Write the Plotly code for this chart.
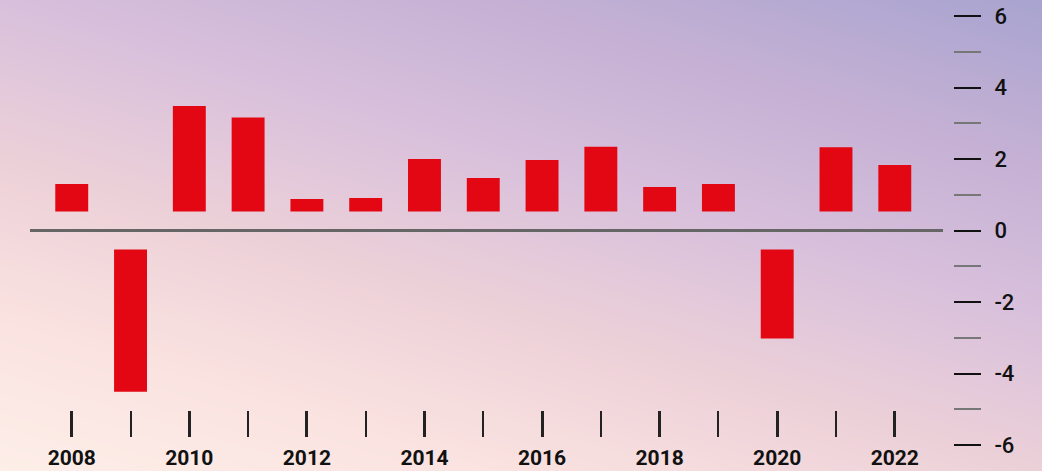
import plotly.graph_objects as go

# ---- data ----
years = list(range(2008, 2023))
values = [1.30, -4.51, 3.48, 3.16, 0.88, 0.91, 2.00, 1.47, 1.97, 2.34, 1.22, 1.30, -3.02, 2.33, 1.83]
y_tickvals = [-6, -4, -2, 0, 2, 4, 6]
x_tickvals = [2008, 2010, 2012, 2014, 2016, 2018, 2020, 2022]

# ---- styling ----
W, H = 1042, 471
bar_gap = 0.53  # bars start slightly away from the zero line
bar_color = "#e30613"
bases = [bar_gap if v >= 0 else -bar_gap for v in values]
lengths = [v - b for v, b in zip(values, bases)]

fig = go.Figure()

# background gradient (full figure)
fig.add_trace(go.Heatmap(
    x=[0, 0.5, 1], y=[0, 1],
    z=[[0, 0.2, 0.4], [0.6, 0.8, 1.0]],
    zsmooth="best", showscale=False, hoverinfo="skip",
    colorscale=[[0, "#fdeee8"], [0.2, "#fae2e0"], [0.4, "#ecd0d8"],
                [0.6, "#d8c0dc"], [0.8, "#c4b0d4"], [1.0, "#a8a4d0"]],
    xaxis="x", yaxis="y",
))

fig.add_trace(go.Bar(
    x=years, y=lengths, base=bases, width=0.56,
    marker=dict(color=bar_color, line=dict(width=0)),
    xaxis="x2", yaxis="y2", showlegend=False,
))

font_family = "Roboto"
fig.update_layout(
    width=W, height=H,
    margin=dict(l=0, r=0, t=0, b=0),
    paper_bgcolor="white", plot_bgcolor="rgba(0,0,0,0)",
    showlegend=False,
    xaxis=dict(domain=[0, 1], range=[0, 1], visible=False, fixedrange=True),
    yaxis=dict(domain=[0, 1], range=[0, 1], visible=False, fixedrange=True),
    xaxis2=dict(
        domain=[30 / W, 943 / W], range=[2007.29, 2022.82],
        anchor="free", position=1 - 437 / H,
        showgrid=False, zeroline=False, showline=False,
        ticks="inside", ticklen=26, tickwidth=2.5, tickcolor="#222",
        tickvals=x_tickvals, ticktext=[str(v) for v in x_tickvals],
        ticklabelstandoff=6,
        tickfont=dict(family=font_family, size=21, color="#111", weight="bold"),
        minor=dict(ticks="inside", ticklen=26, tickwidth=1.5, tickcolor="#222",
                   dtick=1, tick0=2008, showgrid=False),
        automargin=False,
    ),
    yaxis2=dict(
        domain=[1 - 445 / H, 1 - 16 / H], range=[-6, 6],
        anchor="free", position=953 / W, side="right",
        showgrid=False, showline=False,
        zeroline=True, zerolinecolor="#666666", zerolinewidth=3,
        ticks="outside", ticklen=27, tickwidth=2, tickcolor="#111",
        tickvals=y_tickvals, ticktext=[str(v) for v in y_tickvals],
        ticklabelstandoff=9,
        tickfont=dict(family=font_family, size=22, color="#111", weight=500),
        minor=dict(ticks="outside", ticklen=27, tickwidth=1.5, tickcolor="#777",
                   dtick=1, tick0=0, showgrid=False),
        automargin=False,
    ),
)

fig.write_html("out.html", config={"displayModeBar": False},
               post_script="document.body.style.margin='0';")
